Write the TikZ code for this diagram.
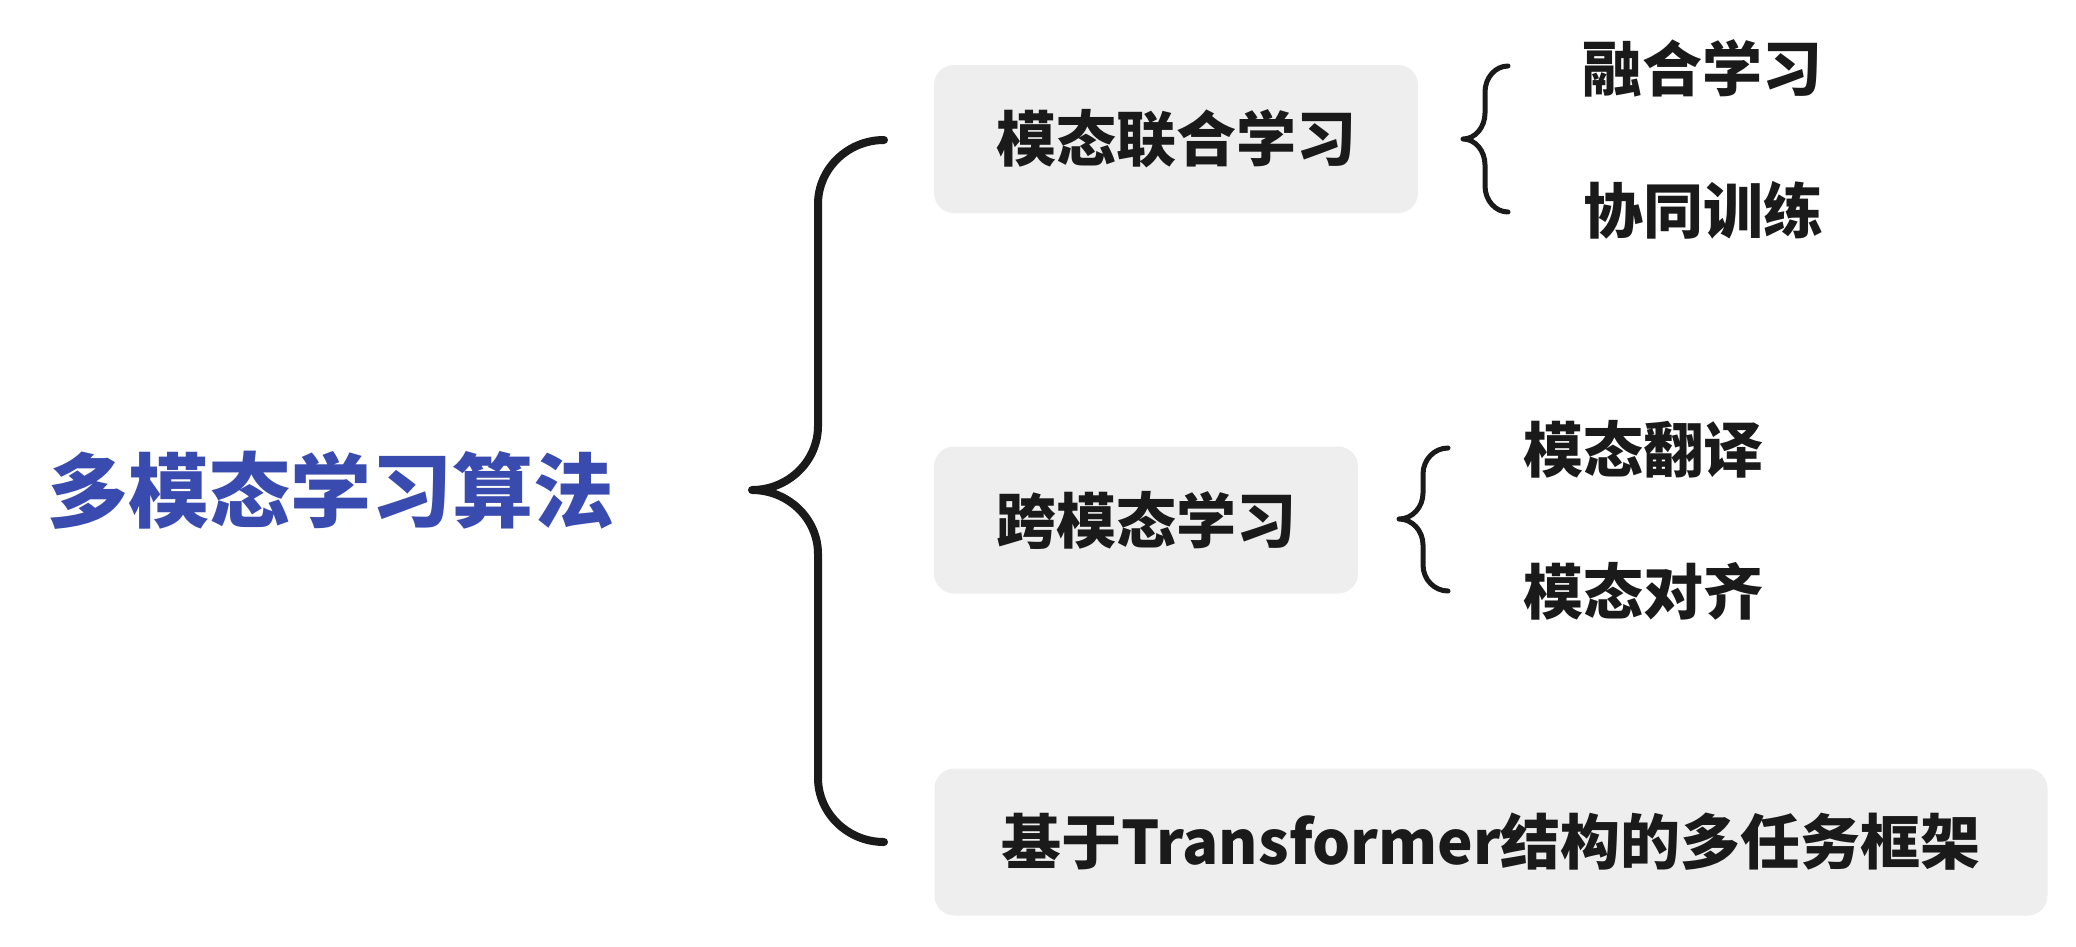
\documentclass[tikz,border=0pt]{standalone}
\usepackage{fontspec}
\setmainfont{Noto Sans CJK SC}
\definecolor{titleblue}{HTML}{3A4BAF}
\definecolor{boxgray}{HTML}{EEEEEE}
\definecolor{ink}{HTML}{1A1A1A}
\tikzset{
  titletext/.style={inner sep=0pt, text=titleblue, font=\bfseries\fontsize{81}{96}\selectfont},
  boxnode/.style={fill=boxgray, rounded corners=20pt, inner sep=0pt, text=ink, font=\bfseries\fontsize{60}{72}\selectfont},
  leaftext/.style={inner sep=0pt, text=ink, font=\bfseries\fontsize{60}{72}\selectfont},
  bigbrace/.style={draw=ink, line width=8pt, line cap=round, line join=round},
  smallbrace/.style={draw=ink, line width=5pt, line cap=round, line join=round}
}
% #1 tip x, #2 tip y, #3 vertical x, #4 end x, #5 top y, #6 bottom y, #7 radius
\newcommand\mybracepath[7]{%
  (#4,#5) .. controls ({#3+0.45*(#4-#3)},#5) and (#3,{#5+0.45*#7}) .. (#3,#5+#7) -- (#3,#2-#7)
  .. controls (#3,{#2-0.45*#7}) and ({#3-0.45*(#3-#1)},#2) .. (#1,#2)
  .. controls ({#3-0.45*(#3-#1)},#2) and (#3,{#2+0.45*#7}) .. (#3,#2+#7) -- (#3,#6-#7)
  .. controls (#3,{#6-0.45*#7}) and ({#3+0.45*(#4-#3)},#6) .. (#4,#6)}
\begin{document}
\begin{tikzpicture}[x=1pt,y=-1pt]
\useasboundingbox (0,0) rectangle (2076,946);
\fill[white] (0,0) rectangle (2076,946);

\node[titletext] (root) at (331,490) {多模态学习算法};

\node[boxnode, minimum width=484pt, minimum height=148pt] (m1) at (1176,139) {模态联合学习};
\node[boxnode, minimum width=424pt, minimum height=147pt] (m2) at (1146,520) {跨模态学习};
\node[boxnode, minimum width=1113pt, minimum height=147pt] (m3) at (1491,842) {基于Transformer结构的多任务框架};

\node[leaftext] (c1) at (1702,68) {融合学习};
\node[leaftext] (c2) at (1703,210) {协同训练};
\node[leaftext] (c3) at (1643,449) {模态翻译};
\node[leaftext] (c4) at (1643,591) {模态对齐};

% big brace: root -> m1, m2, m3
\draw[bigbrace] \mybracepath{752}{490}{818}{884}{140}{842}{64};

% brace m1 -> c1, c2
\draw[smallbrace] \mybracepath{1463}{139}{1485}{1508}{66}{212}{26};

% brace m2 -> c3, c4
\draw[smallbrace] \mybracepath{1399}{519}{1423}{1448}{448}{591}{26};
\end{tikzpicture}
\end{document}
